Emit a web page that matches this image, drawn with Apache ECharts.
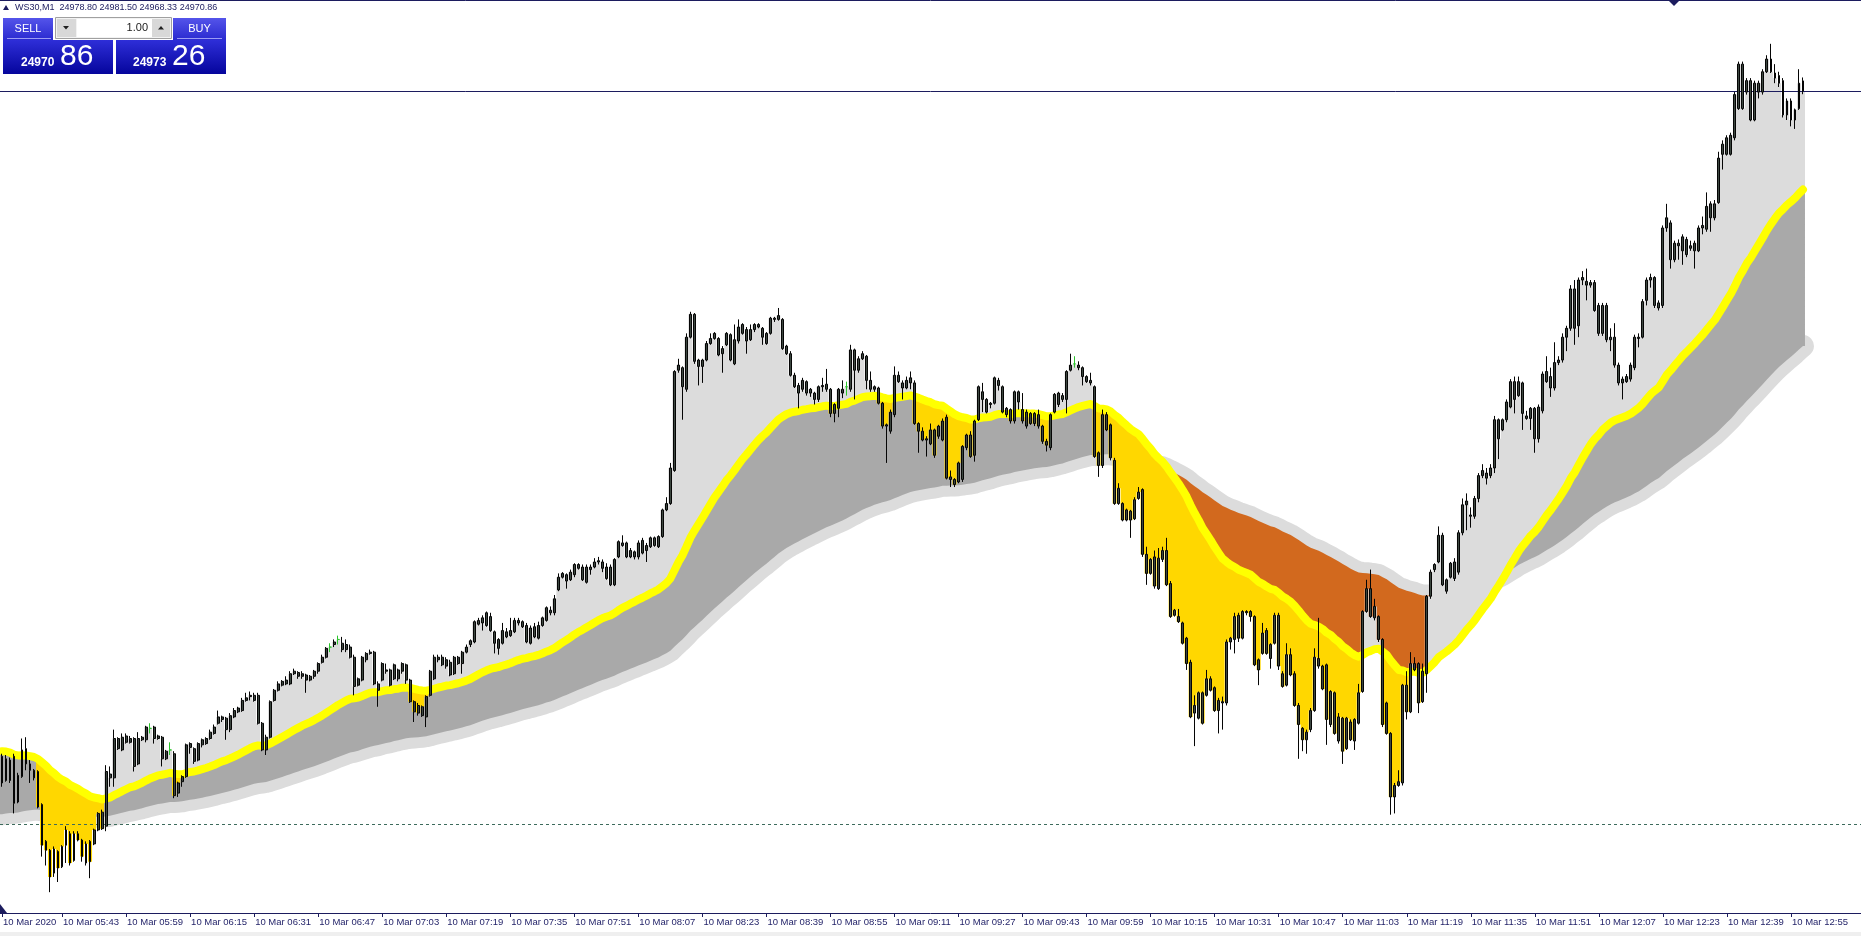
<!DOCTYPE html>
<html>
<head>
<meta charset="utf-8">
<title>WS30,M1</title>
<script src="https://cdn.jsdelivr.net/npm/echarts/dist/echarts.min.js"></script>
<style>
  html, body { margin: 0; padding: 0; background: #fff; }
  #chart { width: 1861px; height: 936px; }
</style>
</head>
<body>
<div id="chart"></div>
<script>
// WS30 M1, 10 Mar 2020, first bar 05:28
const symbol = 'WS30,M1'
const dayLabel = '10 Mar'
const firstLabel = '10 Mar 2020'
const startMinute = 5 * 60 + 28
const slotCount = 465

const opens = [
  24447, 24428, 24444, 24447, 24411, 24431, 24453, 24441, 24436, 24435,
  24409, 24380, 24373, 24355, 24372, 24360, 24377, 24386, 24365, 24386,
  24381, 24363, 24380, 24378, 24389, 24403, 24392, 24433, 24430, 24461,
  24452, 24463, 24458, 24461, 24441, 24462, 24460, 24469, 24470, 24461,
  24462, 24445, 24452, 24449, 24418, 24427, 24431, 24454, 24453, 24444,
  24456, 24457, 24461, 24465, 24473, 24478, 24477, 24468, 24478, 24482,
  24483, 24491, 24494, 24495, 24495, 24473, 24452, 24462, 24491, 24499,
  24503, 24504, 24504, 24512, 24513, 24510, 24511, 24507, 24510, 24514,
  24521, 24525, 24533, 24535, 24539, 24536, 24531, 24533, 24525, 24503,
  24507, 24523, 24528, 24529, 24504, 24507, 24515, 24515, 24508, 24515,
  24514, 24519, 24507, 24490, 24487, 24479, 24478, 24495, 24508, 24523,
  24525, 24518, 24521, 24512, 24525, 24520, 24529, 24535, 24537, 24551,
  24552, 24560, 24557, 24545, 24539, 24536, 24545, 24542, 24545, 24554,
  24553, 24550, 24536, 24549, 24540, 24550, 24554, 24562, 24560, 24578,
  24588, 24590, 24586, 24590, 24598, 24596, 24584, 24596, 24596, 24600,
  24600, 24596, 24596, 24582, 24604, 24615, 24615, 24604, 24608, 24604,
  24617, 24609, 24612, 24619, 24612, 24620, 24641, 24646, 24672, 24751,
  24753, 24736, 24777, 24795, 24759, 24754, 24759, 24772, 24776, 24776,
  24764, 24771, 24779, 24756, 24774, 24780, 24783, 24775, 24783, 24787,
  24784, 24780, 24780, 24792, 24791, 24791, 24770, 24764, 24747, 24739,
  24736, 24742, 24733, 24733, 24728, 24738, 24740, 24736, 24717, 24721,
  24733, 24738, 24736, 24767, 24751, 24760, 24762, 24743, 24736, 24737,
  24725, 24707, 24703, 24716, 24747, 24737, 24737, 24741, 24741, 24709,
  24703, 24696, 24693, 24704, 24699, 24696, 24714, 24665, 24665, 24663,
  24665, 24690, 24700, 24684, 24712, 24734, 24728, 24724, 24725, 24743,
  24738, 24721, 24720, 24711, 24734, 24720, 24707, 24717, 24709, 24716,
  24707, 24695, 24690, 24718, 24724, 24731, 24728, 24751, 24756, 24755,
  24753, 24746, 24743, 24738, 24686, 24676, 24716, 24708, 24680, 24646,
  24646, 24633, 24640, 24634, 24650, 24657, 24606, 24591, 24604, 24579,
  24602, 24609, 24583, 24558, 24557, 24552, 24540, 24521, 24481, 24477,
  24497, 24495, 24508, 24501, 24483, 24489, 24489, 24537, 24539, 24558,
  24540, 24561, 24561, 24557, 24523, 24528, 24546, 24524, 24536, 24558,
  24512, 24503, 24527, 24512, 24487, 24469, 24460, 24468, 24483, 24524,
  24518, 24519, 24472, 24497, 24459, 24477, 24453, 24474, 24459, 24473,
  24498, 24561, 24579, 24556, 24557, 24539, 24489, 24465, 24415, 24424,
  24426, 24503, 24482, 24520, 24520, 24490, 24512, 24573, 24594, 24600,
  24621, 24577, 24588, 24587, 24592, 24623, 24645, 24637, 24636, 24650,
  24668, 24670, 24668, 24674, 24712, 24704, 24712, 24722, 24742, 24731,
  24741, 24715, 24713, 24721, 24697, 24719, 24742, 24746, 24737, 24757,
  24759, 24777, 24784, 24815, 24786, 24822, 24821, 24818, 24820, 24802,
  24780, 24802, 24775, 24777, 24755, 24741, 24742, 24744, 24753, 24776,
  24777, 24806, 24822, 24824, 24804, 24802, 24863, 24867, 24838, 24851,
  24845, 24854, 24847, 24845, 24845, 24863, 24862, 24871, 24871, 24883,
  24921, 24921, 24921, 24934, 24957, 24992, 24970, 24979, 24948, 24970,
  24970, 24986, 24996, 24985, 24983, 24979, 24952, 24963, 24948, 24957,
  24978.80
]

const highs = [
  24449, 24448, 24446, 24449, 24434, 24461, 24462, 24444, 24437, 24436,
  24410, 24381, 24374, 24376, 24373, 24377, 24392, 24388, 24388, 24388,
  24382, 24380, 24381, 24390, 24403, 24405, 24440, 24439, 24468, 24462,
  24465, 24465, 24463, 24462, 24466, 24463, 24471, 24473, 24471, 24464,
  24463, 24452, 24458, 24451, 24427, 24432, 24457, 24458, 24454, 24458,
  24461, 24462, 24468, 24472, 24483, 24479, 24478, 24481, 24485, 24486,
  24493, 24497, 24498, 24497, 24497, 24474, 24464, 24491, 24500, 24506,
  24507, 24510, 24514, 24516, 24514, 24514, 24512, 24511, 24515, 24521,
  24527, 24533, 24536, 24539, 24542, 24541, 24539, 24535, 24527, 24509,
  24526, 24529, 24531, 24530, 24506, 24521, 24520, 24516, 24520, 24516,
  24521, 24520, 24508, 24491, 24489, 24487, 24495, 24515, 24527, 24527,
  24527, 24525, 24523, 24526, 24526, 24530, 24535, 24539, 24554, 24556,
  24558, 24561, 24560, 24546, 24540, 24552, 24548, 24556, 24556, 24556,
  24554, 24552, 24550, 24552, 24553, 24557, 24565, 24565, 24574, 24591,
  24592, 24591, 24594, 24599, 24599, 24598, 24598, 24598, 24603, 24604,
  24602, 24599, 24598, 24603, 24617, 24621, 24616, 24611, 24609, 24617,
  24619, 24615, 24620, 24620, 24621, 24642, 24651, 24678, 24751, 24760,
  24754, 24780, 24797, 24796, 24760, 24760, 24774, 24780, 24781, 24777,
  24770, 24781, 24780, 24787, 24791, 24788, 24785, 24787, 24788, 24788,
  24785, 24781, 24793, 24793, 24800, 24792, 24771, 24766, 24749, 24741,
  24745, 24743, 24737, 24734, 24739, 24745, 24752, 24737, 24725, 24737,
  24743, 24742, 24771, 24768, 24762, 24766, 24763, 24750, 24739, 24738,
  24726, 24709, 24720, 24754, 24750, 24743, 24746, 24750, 24743, 24710,
  24706, 24699, 24709, 24705, 24708, 24713, 24716, 24672, 24666, 24679,
  24692, 24701, 24703, 24712, 24739, 24741, 24729, 24726, 24746, 24745,
  24739, 24722, 24721, 24735, 24735, 24733, 24720, 24718, 24718, 24720,
  24708, 24697, 24717, 24733, 24734, 24733, 24751, 24764, 24762, 24758,
  24754, 24747, 24749, 24739, 24687, 24720, 24718, 24709, 24682, 24662,
  24647, 24642, 24641, 24651, 24659, 24658, 24612, 24603, 24609, 24611,
  24612, 24619, 24585, 24563, 24563, 24553, 24541, 24523, 24495, 24498,
  24498, 24515, 24510, 24502, 24493, 24494, 24539, 24541, 24560, 24560,
  24562, 24562, 24562, 24558, 24524, 24552, 24548, 24536, 24560, 24560,
  24514, 24536, 24532, 24514, 24489, 24470, 24468, 24485, 24532, 24556,
  24519, 24520, 24499, 24498, 24481, 24478, 24478, 24476, 24477, 24504,
  24562, 24586, 24594, 24571, 24558, 24540, 24490, 24466, 24426, 24436,
  24504, 24514, 24529, 24525, 24521, 24520, 24574, 24594, 24599, 24628,
  24623, 24587, 24600, 24603, 24625, 24650, 24654, 24643, 24652, 24670,
  24677, 24674, 24677, 24715, 24713, 24713, 24728, 24744, 24746, 24746,
  24742, 24719, 24722, 24722, 24724, 24750, 24762, 24753, 24773, 24762,
  24780, 24786, 24818, 24822, 24824, 24829, 24831, 24822, 24822, 24804,
  24804, 24804, 24784, 24788, 24757, 24746, 24748, 24757, 24779, 24780,
  24807, 24824, 24827, 24825, 24806, 24865, 24882, 24869, 24853, 24854,
  24858, 24856, 24853, 24853, 24865, 24872, 24891, 24884, 24885, 24923,
  24932, 24936, 24938, 24970, 24994, 24994, 24981, 24981, 24979, 24979,
  24988, 24999, 25008, 24992, 24986, 24981, 24965, 24965, 24957, 24988,
  24981.50
]

const lows = [
  24423, 24427, 24426, 24402, 24410, 24430, 24436, 24426, 24428, 24406,
  24368, 24361, 24340, 24352, 24348, 24359, 24363, 24361, 24364, 24380,
  24364, 24361, 24351, 24377, 24388, 24389, 24388, 24423, 24423, 24452,
  24451, 24457, 24457, 24435, 24440, 24459, 24458, 24465, 24457, 24460,
  24439, 24444, 24448, 24414, 24415, 24423, 24430, 24449, 24441, 24443,
  24454, 24456, 24460, 24464, 24472, 24474, 24460, 24466, 24477, 24481,
  24482, 24490, 24491, 24490, 24472, 24451, 24448, 24461, 24490, 24498,
  24502, 24503, 24503, 24511, 24508, 24508, 24497, 24506, 24508, 24512,
  24520, 24524, 24529, 24533, 24535, 24529, 24529, 24524, 24495, 24502,
  24506, 24521, 24527, 24503, 24486, 24506, 24512, 24502, 24507, 24506,
  24512, 24504, 24489, 24474, 24479, 24478, 24470, 24494, 24507, 24521,
  24518, 24516, 24510, 24511, 24519, 24512, 24528, 24533, 24536, 24550,
  24546, 24549, 24545, 24528, 24527, 24535, 24540, 24541, 24544, 24550,
  24548, 24536, 24535, 24540, 24539, 24549, 24553, 24558, 24558, 24577,
  24587, 24579, 24585, 24588, 24594, 24585, 24583, 24590, 24595, 24598,
  24592, 24586, 24581, 24581, 24603, 24612, 24603, 24603, 24602, 24602,
  24606, 24600, 24611, 24612, 24611, 24619, 24640, 24645, 24671, 24749,
  24712, 24734, 24776, 24756, 24739, 24741, 24758, 24771, 24775, 24762,
  24749, 24770, 24758, 24755, 24772, 24779, 24764, 24774, 24781, 24784,
  24771, 24771, 24779, 24789, 24790, 24767, 24763, 24746, 24737, 24721,
  24734, 24731, 24730, 24724, 24726, 24734, 24734, 24714, 24710, 24714,
  24729, 24731, 24734, 24728, 24749, 24759, 24736, 24734, 24734, 24724,
  24705, 24678, 24701, 24714, 24741, 24728, 24736, 24736, 24708, 24686,
  24695, 24683, 24692, 24682, 24697, 24695, 24665, 24659, 24659, 24662,
  24663, 24688, 24682, 24679, 24711, 24718, 24717, 24721, 24724, 24735,
  24717, 24714, 24709, 24709, 24720, 24709, 24705, 24708, 24707, 24705,
  24693, 24687, 24688, 24717, 24722, 24726, 24717, 24750, 24753, 24751,
  24739, 24741, 24739, 24682, 24667, 24674, 24703, 24680, 24645, 24645,
  24632, 24632, 24619, 24633, 24649, 24604, 24582, 24590, 24579, 24578,
  24600, 24581, 24556, 24557, 24552, 24535, 24515, 24477, 24455, 24476,
  24472, 24494, 24498, 24482, 24465, 24468, 24487, 24531, 24528, 24537,
  24539, 24558, 24553, 24518, 24503, 24527, 24527, 24516, 24535, 24515,
  24501, 24502, 24510, 24486, 24445, 24451, 24449, 24466, 24482, 24516,
  24499, 24456, 24470, 24464, 24457, 24441, 24452, 24459, 24452, 24472,
  24497, 24560, 24556, 24554, 24537, 24470, 24464, 24401, 24402, 24423,
  24424, 24476, 24481, 24514, 24481, 24489, 24497, 24571, 24592, 24599,
  24581, 24575, 24587, 24585, 24590, 24621, 24625, 24627, 24634, 24647,
  24666, 24661, 24666, 24670, 24681, 24703, 24710, 24721, 24717, 24730,
  24704, 24712, 24704, 24686, 24694, 24717, 24741, 24730, 24735, 24755,
  24757, 24766, 24782, 24771, 24777, 24818, 24806, 24816, 24797, 24778,
  24778, 24773, 24766, 24753, 24739, 24728, 24741, 24742, 24751, 24769,
  24776, 24802, 24816, 24800, 24798, 24800, 24860, 24831, 24836, 24838,
  24834, 24840, 24845, 24831, 24844, 24858, 24860, 24860, 24869, 24882,
  24909, 24920, 24920, 24932, 24956, 24956, 24968, 24947, 24947, 24965,
  24968, 24985, 24985, 24977, 24974, 24950, 24948, 24943, 24941, 24956,
  24968.33
]

const closes = [
  24426, 24445, 24428, 24410, 24432, 24452, 24441, 24436, 24430, 24407,
  24377, 24373, 24352, 24374, 24359, 24376, 24389, 24363, 24386, 24381,
  24368, 24378, 24364, 24389, 24402, 24390, 24435, 24430, 24461, 24453,
  24462, 24458, 24461, 24439, 24461, 24460, 24470, 24469, 24461, 24463,
  24445, 24451, 24452, 24416, 24426, 24431, 24456, 24457, 24443, 24457,
  24460, 24461, 24466, 24470, 24478, 24476, 24468, 24479, 24483, 24485,
  24491, 24493, 24495, 24491, 24473, 24452, 24462, 24490, 24499, 24504,
  24506, 24507, 24512, 24514, 24510, 24512, 24507, 24510, 24514, 24520,
  24525, 24532, 24533, 24537, 24539, 24531, 24535, 24525, 24502, 24508,
  24525, 24528, 24529, 24504, 24499, 24520, 24514, 24503, 24519, 24508,
  24520, 24507, 24490, 24482, 24481, 24486, 24494, 24514, 24525, 24525,
  24519, 24523, 24511, 24525, 24520, 24529, 24533, 24538, 24553, 24554,
  24556, 24550, 24546, 24536, 24532, 24546, 24541, 24546, 24554, 24552,
  24549, 24537, 24548, 24541, 24550, 24556, 24564, 24560, 24571, 24588,
  24591, 24585, 24592, 24598, 24595, 24586, 24596, 24594, 24600, 24601,
  24595, 24587, 24582, 24602, 24616, 24613, 24604, 24609, 24604, 24615,
  24607, 24613, 24619, 24613, 24620, 24641, 24646, 24674, 24750, 24755,
  24738, 24777, 24795, 24758, 24754, 24759, 24772, 24776, 24780, 24763,
  24768, 24780, 24759, 24775, 24785, 24787, 24774, 24783, 24787, 24785,
  24777, 24772, 24792, 24791, 24794, 24768, 24764, 24747, 24738, 24733,
  24743, 24733, 24736, 24728, 24738, 24739, 24736, 24717, 24724, 24736,
  24736, 24738, 24767, 24751, 24760, 24764, 24743, 24736, 24738, 24725,
  24707, 24708, 24718, 24747, 24742, 24741, 24743, 24745, 24709, 24703,
  24696, 24697, 24704, 24684, 24707, 24711, 24666, 24667, 24661, 24678,
  24691, 24700, 24683, 24711, 24738, 24728, 24718, 24725, 24745, 24739,
  24718, 24716, 24711, 24734, 24726, 24711, 24718, 24709, 24717, 24707,
  24695, 24692, 24716, 24732, 24733, 24728, 24750, 24755, 24756, 24753,
  24746, 24742, 24741, 24683, 24676, 24716, 24704, 24682, 24646, 24658,
  24633, 24641, 24633, 24649, 24655, 24606, 24591, 24602, 24581, 24603,
  24609, 24582, 24557, 24562, 24553, 24536, 24520, 24478, 24487, 24497,
  24473, 24508, 24499, 24483, 24491, 24490, 24537, 24540, 24557, 24540,
  24561, 24560, 24557, 24519, 24515, 24544, 24528, 24535, 24558, 24518,
  24502, 24527, 24511, 24487, 24472, 24460, 24466, 24483, 24525, 24518,
  24500, 24476, 24498, 24465, 24478, 24451, 24477, 24460, 24476, 24497,
  24561, 24579, 24557, 24565, 24539, 24472, 24465, 24415, 24424, 24427,
  24503, 24482, 24520, 24515, 24489, 24514, 24573, 24592, 24598, 24621,
  24582, 24586, 24599, 24600, 24623, 24645, 24648, 24636, 24650, 24668,
  24672, 24666, 24674, 24712, 24697, 24712, 24726, 24742, 24728, 24742,
  24717, 24713, 24721, 24697, 24722, 24748, 24750, 24737, 24757, 24759,
  24777, 24784, 24815, 24784, 24822, 24824, 24818, 24820, 24798, 24780,
  24802, 24775, 24777, 24755, 24741, 24744, 24746, 24755, 24777, 24777,
  24805, 24822, 24824, 24802, 24800, 24863, 24871, 24838, 24851, 24849,
  24856, 24842, 24849, 24851, 24863, 24865, 24880, 24882, 24882, 24918,
  24929, 24934, 24936, 24968, 24992, 24957, 24979, 24948, 24977, 24977,
  24986, 24996, 24986, 24981, 24977, 24952, 24963, 24948, 24956, 24977,
  24970.86
]

// price lines and quote
const bidPrice = 24970.86
const askPrice = 24973.26
const dashedLevel = 24393.7
const lotSize = '1.00'

// indicator settings (EMA values just before the first visible bar)
const fastPeriod = 50
const slowPeriod = 144
const fastSeed = 24452
const slowSeed = 24401
const fillStart = 9

const priceMin = 24323.6
const priceMax = 25042.5

function ema (values, period, seed) {
  const k = 2 / (period + 1)
  let prev = seed
  return values.map(v => (prev = prev + k * (v - prev)))
}

const last = closes.length - 1
const fast = ema(closes, fastPeriod, fastSeed)
const slow = ema(closes, slowPeriod, slowSeed)
const bandUp = fast.map((f, i) => f >= slow[i])
const priceUp = closes.map((c, i) => c >= fast[i])

const times = []
for (let i = 0; i < slotCount; i++) {
  const m = startMinute + i
  times.push(String(Math.floor(m / 60)).padStart(2, '0') + ':' + String(m % 60).padStart(2, '0'))
}
const showLabel = (index) => index === 0 || (index >= 15 && index <= last && (index - 15) % 16 === 0)

const candles = opens.map((o, i) => [o, closes[i], lows[i], highs[i]])

const navy = '#1c1c5e'

// split bars into runs of the same state
function runsOf (flags, from) {
  const runs = []
  let start = from
  for (let i = from + 1; i <= last + 1; i++) {
    if (i > last || flags[i] !== flags[start]) {
      runs.push([start, i - 1, flags[start]])
      start = i
    }
  }
  return runs
}

// fast/slow cloud: one polygon per run
function renderBand (params, api) {
  const w = api.size([1, 0])[0]
  const children = runsOf(bandUp, 0).map(([a, b, up]) => {
    const end = Math.min(b + 1, last)
    const top = []
    const bottom = []
    for (let i = a; i <= end; i++) {
      top.push(api.coord([i, fast[i]]))
      bottom.push(api.coord([i, slow[i]]))
    }
    if (a === 0) {
      top.unshift([top[0][0] - w / 2, top[0][1]])
      bottom.unshift([bottom[0][0] - w / 2, bottom[0][1]])
    }
    if (end === last) {
      const t = top[top.length - 1]
      const s = bottom[bottom.length - 1]
      top.push([t[0] + w / 2, t[1]])
      bottom.push([s[0] + w / 2, s[1]])
    }
    const fill = up ? '#a9a9a9' : '#d2691e'
    return { type: 'polygon', shape: { points: top.concat(bottom.reverse()) }, style: { fill: fill } }
  })
  return { type: 'group', children: children }
}

// close vs fast histogram: stepped polygon per run
function renderPriceFill (params, api) {
  const w = api.size([1, 0])[0]
  const children = runsOf(priceUp, fillStart).map(([a, b, up]) => {
    const pts = []
    for (let i = a; i <= b; i++) {
      const p = api.coord([i, closes[i]])
      pts.push([p[0] - w / 2, p[1]], [p[0] + w / 2, p[1]])
    }
    for (let i = b; i >= a; i--) {
      const q = api.coord([i, fast[i]])
      pts.push([q[0] + w / 2, q[1]], [q[0] - w / 2, q[1]])
    }
    return { type: 'polygon', shape: { points: pts }, style: { fill: up ? '#dcdcdc' : '#ffd700' } }
  })
  return { type: 'group', children: children }
}

const chart = echarts.init(document.getElementById('chart'))

const headTop = new echarts.graphic.LinearGradient(0, 0, 0, 1, [
  { offset: 0, color: '#5454ea' }, { offset: 1, color: '#2a2ad0' }
])
const priceFill = new echarts.graphic.LinearGradient(0, 0, 0, 1, [
  { offset: 0, color: '#2e2ed8' }, { offset: 1, color: '#05059c' }
])
const [bidInt, bidFrac] = bidPrice.toFixed(2).split('.')
const [askInt, askFrac] = askPrice.toFixed(2).split('.')
const headerText = symbol + '  ' + [opens[last], highs[last], lows[last], closes[last]].map(v => v.toFixed(2)).join(' ')

const option = {
  animation: false,
  backgroundColor: '#ffffff',
  grid: { left: 0, right: 0, top: 0, bottom: 23 },
  xAxis: {
    type: 'category',
    data: times,
    boundaryGap: true,
    axisLine: { lineStyle: { color: navy, width: 1 } },
    axisTick: { show: true, interval: showLabel, alignWithLabel: true, length: 4, lineStyle: { color: navy } },
    axisLabel: {
      interval: showLabel,
      formatter: (v, i) => (i === 0 ? firstLabel : dayLabel + ' ' + v),
      align: 'left',
      margin: 4,
      padding: [0, 0, 0, 1],
      color: '#1f1f66',
      fontSize: 9.5,
      fontFamily: 'Liberation Sans'
    },
    splitLine: { show: false }
  },
  yAxis: {
    type: 'value',
    min: priceMin,
    max: priceMax,
    show: false,
    splitLine: { show: false }
  },
  series: [
    {
      name: 'levels',
      type: 'line',
      data: closes,
      symbol: 'none',
      silent: true,
      z: 0,
      lineStyle: { opacity: 0 },
      markLine: {
        silent: true,
        symbol: ['none', 'none'],
        label: { show: false },
        data: [
          { yAxis: dashedLevel, lineStyle: { color: '#3d6b5c', type: [3, 3], width: 1 } },
          { yAxis: bidPrice, lineStyle: { color: navy, type: 'solid', width: 1 } }
        ]
      }
    },
    {
      name: 'slow',
      type: 'line',
      data: slow,
      symbol: 'none',
      silent: true,
      z: 1,
      lineStyle: { color: '#dcdcdc', width: 22, cap: 'round', join: 'round' }
    },
    {
      name: 'band',
      type: 'custom',
      renderItem: renderBand,
      data: [[0, fast[0]]],
      encode: { x: 0, y: 1 },
      silent: true,
      z: 2
    },
    {
      name: 'priceFill',
      type: 'custom',
      renderItem: renderPriceFill,
      data: [[fillStart, fast[fillStart]]],
      encode: { x: 0, y: 1 },
      silent: true,
      z: 3
    },
    {
      name: 'fast',
      type: 'line',
      data: fast,
      symbol: 'none',
      silent: true,
      z: 4,
      lineStyle: { color: '#ffff00', width: 8, cap: 'round', join: 'round' }
    },
    {
      name: symbol,
      type: 'candlestick',
      data: candles,
      barWidth: 2.4,
      silent: true,
      z: 5,
      itemStyle: {
        color: '#3c4740',
        color0: '#3c4740',
        borderColor: '#050505',
        borderColor0: '#050505',
        borderColorDoji: '#2cc52c',
        borderWidth: 1
      }
    }
  ],
  graphic: [
    { type: 'line', shape: { x1: 0, y1: 0.5, x2: 1861, y2: 0.5 }, style: { stroke: navy, lineWidth: 1 }, z: 100 },
    { type: 'polygon', shape: { points: [[1668, 0], [1680, 0], [1674, 6]] }, style: { fill: navy }, z: 100 },
    { type: 'polygon', shape: { points: [[0, 904], [0, 913], [7, 913]] }, style: { fill: navy }, z: 100 },
    { type: 'rect', shape: { x: 0, y: 932, width: 1861, height: 4 }, style: { fill: '#efefef' }, z: 100 },
    { type: 'polygon', shape: { points: [[3, 10], [9, 10], [6, 5]] }, style: { fill: navy }, z: 100 },
    {
      type: 'text', z: 100,
      style: { text: headerText, x: 15, y: 8, fill: navy, font: '9px "Liberation Sans"', textVerticalAlign: 'middle' }
    },
    // one-click trading panel
    { type: 'rect', shape: { x: 3, y: 18, width: 50, height: 22 }, style: { fill: headTop }, z: 100 },
    { type: 'line', shape: { x1: 7, y1: 38.5, x2: 51, y2: 38.5 }, style: { stroke: '#9c9cf4', lineWidth: 1 }, z: 101 },
    {
      type: 'text', z: 101,
      style: { text: 'SELL', x: 28, y: 28.5, fill: '#ffffff', font: '11px "Liberation Sans"', textAlign: 'center', textVerticalAlign: 'middle' }
    },
    { type: 'rect', shape: { x: 55.5, y: 17.5, width: 116, height: 21 }, style: { fill: '#f2f2f2', stroke: '#a0a0a0', lineWidth: 1 }, z: 100 },
    { type: 'rect', shape: { x: 57, y: 19, width: 19, height: 18 }, style: { fill: '#d8d8d8' }, z: 101 },
    { type: 'polygon', shape: { points: [[63, 26], [69, 26], [66, 29.5]] }, style: { fill: '#202020' }, z: 102 },
    { type: 'rect', shape: { x: 77, y: 19, width: 75, height: 18 }, style: { fill: '#ffffff' }, z: 101 },
    {
      type: 'text', z: 102,
      style: { text: lotSize, x: 148, y: 28, fill: '#202020', font: '11px "Liberation Sans"', textAlign: 'right', textVerticalAlign: 'middle' }
    },
    { type: 'rect', shape: { x: 152, y: 19, width: 18, height: 18 }, style: { fill: '#d8d8d8' }, z: 101 },
    { type: 'polygon', shape: { points: [[158, 29.5], [164, 29.5], [161, 26]] }, style: { fill: '#202020' }, z: 102 },
    { type: 'rect', shape: { x: 173, y: 18, width: 53, height: 22 }, style: { fill: headTop }, z: 100 },
    { type: 'line', shape: { x1: 177, y1: 38.5, x2: 222, y2: 38.5 }, style: { stroke: '#9c9cf4', lineWidth: 1 }, z: 101 },
    {
      type: 'text', z: 101,
      style: { text: 'BUY', x: 199.5, y: 28.5, fill: '#ffffff', font: '11px "Liberation Sans"', textAlign: 'center', textVerticalAlign: 'middle' }
    },
    { type: 'rect', shape: { x: 3, y: 40, width: 110, height: 34 }, style: { fill: priceFill }, z: 100 },
    { type: 'rect', shape: { x: 116, y: 40, width: 110, height: 34 }, style: { fill: priceFill }, z: 100 },
    {
      type: 'text', z: 101,
      style: { text: bidInt, x: 21, y: 63, fill: '#ffffff', font: 'bold 12px "Liberation Sans"', textVerticalAlign: 'middle' }
    },
    {
      type: 'text', z: 101,
      style: { text: bidFrac, x: 60, y: 56.5, fill: '#ffffff', font: '30px "Liberation Sans"', textVerticalAlign: 'middle' }
    },
    {
      type: 'text', z: 101,
      style: { text: askInt, x: 133, y: 63, fill: '#ffffff', font: 'bold 12px "Liberation Sans"', textVerticalAlign: 'middle' }
    },
    {
      type: 'text', z: 101,
      style: { text: askFrac, x: 172, y: 56.5, fill: '#ffffff', font: '30px "Liberation Sans"', textVerticalAlign: 'middle' }
    }
  ]
}

chart.setOption(option)
</script>
</body>
</html>
